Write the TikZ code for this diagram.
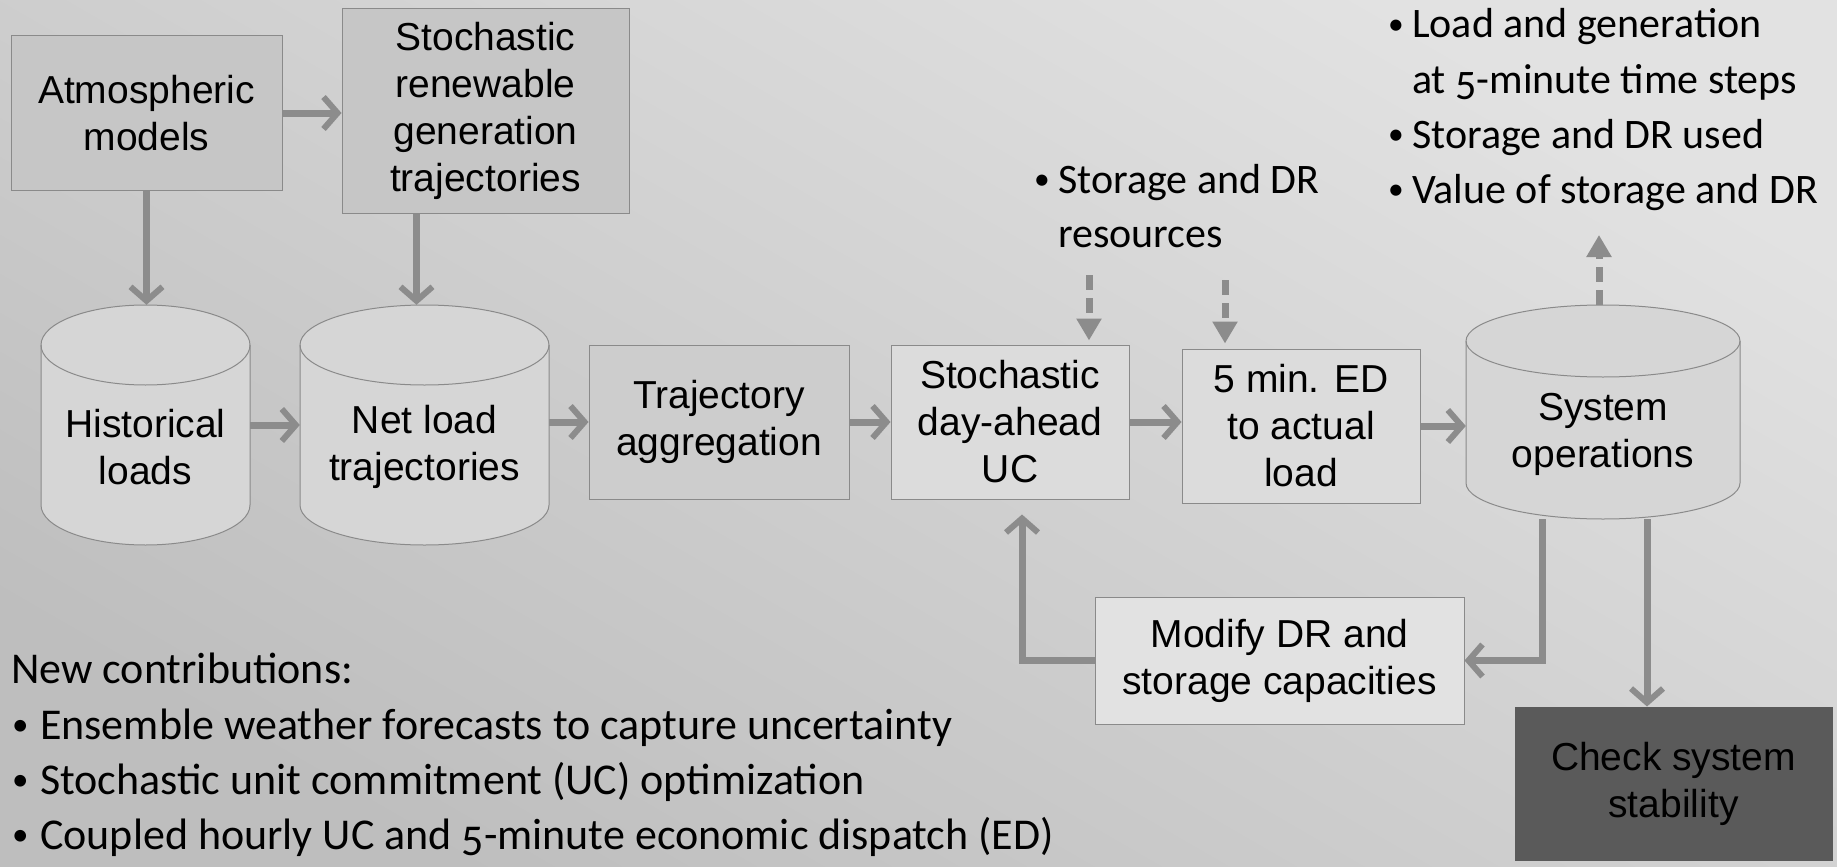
\documentclass[tikz,border=0pt]{standalone}
\usepackage{fontspec}
\setmainfont{Liberation Sans}
\newfontfamily\calfont{Carlito}
\usetikzlibrary{arrows.meta}
\definecolor{bgtop}{HTML}{E2E2E2}
\definecolor{bgbot}{HTML}{BEBEBE}
\definecolor{boxline}{HTML}{8A8A8A}
\definecolor{arrowc}{HTML}{8C8C8C}
\definecolor{darkfill}{HTML}{C6C6C6}
\definecolor{midfill}{HTML}{CDCDCD}
\definecolor{lightfill}{HTML}{DCDCDC}
\definecolor{palefill}{HTML}{E2E2E2}
\definecolor{cylfillc}{HTML}{D6D6D6}
\definecolor{checkfill}{HTML}{5A5A5A}
\newcommand{\boxfont}{\fontsize{39}{47}\selectfont}
\newcommand{\mybul}[1]{\makebox[#1][l]{\raisebox{0.08em}{\scalebox{0.75}{•}}}}
\newcommand{\oldfive}{\raisebox{-0.15em}{5}}
\newcommand{\mycyl}[5]{%
  \pgfmathsetmacro\myrx{(#2-#1)/2}%
  \filldraw[fill=cylfillc, draw=boxline, line width=1pt] (#1,#3) -- (#1,#4)
    arc[start angle=180, end angle=360, x radius=\myrx pt, y radius=#5pt] -- (#2,#3)
    arc[start angle=0, end angle=180, x radius=\myrx pt, y radius=#5pt] -- cycle;
  \draw[draw=boxline, line width=1pt] (#1,#3)
    arc[start angle=180, end angle=360, x radius=\myrx pt, y radius=#5pt];
}
\begin{document}
\begin{tikzpicture}[x=1pt, y=-1pt,
  box/.style={draw=boxline, line width=1pt, align=center, inner sep=0pt, font=\boxfont},
  ghost/.style={inner sep=0pt, draw=none},
  flow/.style={draw=arrowc, line width=7pt, -{Straight Barb[length=14pt, width=32pt, line width=6pt]}},
  dflow/.style={draw=arrowc, line width=7pt, dash pattern=on 15pt off 8pt, -{Triangle[length=22pt, width=24pt]}},
  txt/.style={anchor=base west, inner sep=0pt, font=\calfont\fontsize{42}{50}\selectfont},
  btxt/.style={anchor=base west, inner sep=0pt, font=\calfont\fontsize{44}{52}\selectfont}]
\useasboundingbox (0,0) rectangle (1837,867);
\shade[top color=bgtop, bottom color=bgbot, shading angle=-30] (0,0) rectangle (1837,867);

% boxes
\node[box, fill=darkfill, minimum width=271pt, minimum height=154pt] (atm) at (146.5,113) {Atmospheric\\models};
\node[box, fill=darkfill, minimum width=287pt, minimum height=204pt] (stoch) at (485.5,111) {Stochastic\\renewable\\generation\\trajectories};
\node[box, fill=midfill, minimum width=260pt, minimum height=154pt] (traj) at (719,422) {Trajectory\\aggregation};
\node[box, fill=lightfill, minimum width=238pt, minimum height=154pt] (uc) at (1010,422) {Stochastic\\day-ahead\\UC};
\node[box, fill=lightfill, minimum width=238pt, minimum height=154pt] (ed) at (1301,426) {5 min. ED\\to actual\\load};
\node[box, fill=palefill, minimum width=369pt, minimum height=127pt] (modify) at (1279.5,660.5) {Modify DR and\\storage capacities};
\node[box, fill=checkfill, draw=checkfill, minimum width=317pt, minimum height=153pt] (check) at (1673.5,783.5) {Check system\\stability};

% cylinders
\mycyl{41}{250}{345}{505}{40}
\mycyl{300}{549}{345}{505}{40}
\mycyl{1466}{1740}{341}{483}{36}
\node[ghost, minimum width=209pt, minimum height=240pt] (hist) at (145.5,425) {};
\node[ghost, minimum width=249pt, minimum height=240pt] (net) at (424.5,425) {};
\node[ghost, minimum width=274pt, minimum height=214pt] (sys) at (1603,412) {};
\node[align=center, inner sep=0pt, font=\boxfont] (histtext) at (145.5,447) {Historical\\loads};
\node[align=center, inner sep=0pt, font=\boxfont] (nettext) at (424.5,447) {Net load\\trajectories};
\node[align=center, inner sep=0pt, font=\boxfont] (systext) at (1603,434) {System\\operations};

% main flow
\draw[flow] (atm.east) -- (atm.east -| stoch.west);
\draw[flow] (atm.south) -- (atm.south |- hist.north);
\coordinate (sn) at ([xshift=-8pt]net.north);
\draw[flow] (sn |- stoch.south) -- (sn);
\draw[flow] (hist.east) -- (net.west);
\draw[flow] (traj.west -| net.east) -- (traj.west);
\draw[flow] (traj.east) -- (uc.west);
\draw[flow] (uc.east) -- (uc.east -| ed.west);
\draw[flow] (ed.east) -- (ed.east -| sys.west);

% feedback
\coordinate (s1) at ([xshift=-61pt]sys.south);
\draw[flow] (s1) |- (modify.east);
\coordinate (u1) at ([xshift=12pt]uc.south);
\draw[flow, shorten >=15pt] (modify.west) -| (u1);
\coordinate (s2) at ([xshift=44pt]sys.south);
\draw[flow] (s2) -- (s2 |- check.north);

% dashed arrows
\coordinate (duc) at (1089,275);
\draw[dflow, shorten >=4pt] (duc) -- (duc |- uc.north);
\coordinate (ded) at (1225,280);
\draw[dflow, shorten >=5pt] (ded) -- (ded |- ed.north);
\coordinate (dsy) at (1599,235);
\draw[dflow] (dsy |- sys.north) -- (dsy);

% texts
\node[txt] (r1) at (1388,38) {\mybul{24pt}Load and generation};
\node[txt] (r2) at (1412,93) {at \oldfive-minute time steps};
\node[txt] (r3) at (1388,148) {\mybul{24pt}Storage and DR used};
\node[txt] (r4) at (1388,203) {\mybul{24pt}Value of storage and DR};
\node[txt] (q1) at (1034,193) {\mybul{24pt}Storage and DR};
\node[txt] (q2) at (1058,247) {resources};
\node[btxt] (n0) at (11,683) {New contributions:};
\node[btxt] (n1) at (12,739) {\mybul{28pt}Ensemble weather forecasts to capture uncertainty};
\node[btxt] (n2) at (12,794) {\mybul{28pt}Stochastic unit commitment (UC) optimization};
\node[btxt] (n3) at (12,849) {\mybul{28pt}Coupled hourly UC and \oldfive-minute economic dispatch (ED)};
\end{tikzpicture}
\end{document}
